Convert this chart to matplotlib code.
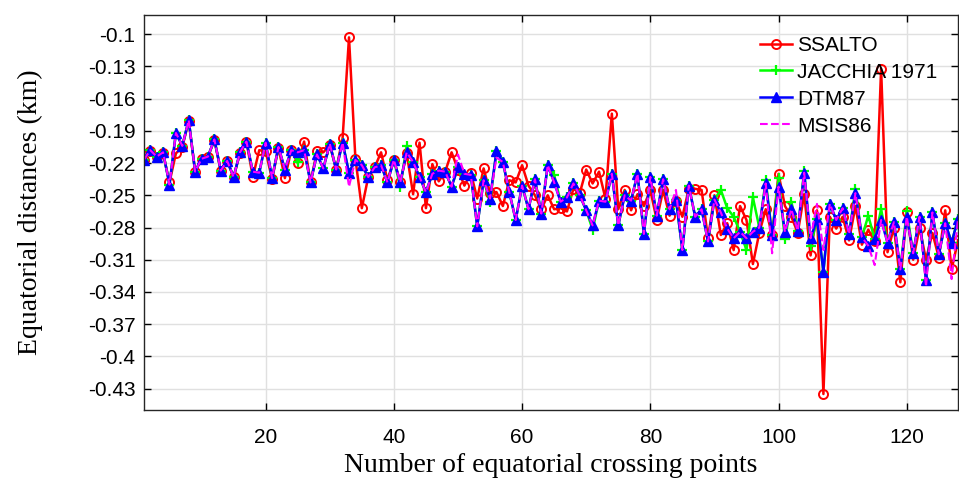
import numpy as np
import matplotlib.pyplot as plt

# equatorial crossing point index
points = np.arange(1, 129)

dtm87 = [
    -0.217, -0.208, -0.214, -0.210, -0.240, -0.192, -0.204, -0.180, -0.228, -0.216,
    -0.214, -0.198, -0.227, -0.218, -0.233, -0.210, -0.200, -0.228, -0.229, -0.201,
    -0.234, -0.205, -0.226, -0.208, -0.210, -0.208, -0.238, -0.212, -0.225, -0.202,
    -0.226, -0.201, -0.229, -0.217, -0.222, -0.233, -0.224, -0.222, -0.238, -0.217,
    -0.238, -0.210, -0.219, -0.233, -0.247, -0.230, -0.227, -0.228, -0.242, -0.224,
    -0.230, -0.231, -0.279, -0.236, -0.253, -0.209, -0.219, -0.247, -0.273, -0.241,
    -0.263, -0.235, -0.267, -0.222, -0.238, -0.256, -0.252, -0.239, -0.250, -0.264,
    -0.278, -0.255, -0.256, -0.230, -0.278, -0.250, -0.255, -0.230, -0.286, -0.233,
    -0.269, -0.235, -0.263, -0.254, -0.301, -0.241, -0.270, -0.263, -0.293, -0.254,
    -0.266, -0.281, -0.290, -0.284, -0.290, -0.284, -0.280, -0.239, -0.287, -0.242,
    -0.284, -0.263, -0.283, -0.229, -0.290, -0.272, -0.321, -0.258, -0.273, -0.262,
    -0.286, -0.248, -0.289, -0.297, -0.291, -0.273, -0.294, -0.275, -0.319, -0.270,
    -0.304, -0.270, -0.329, -0.266, -0.305, -0.276, -0.294, -0.272,
]

ssalto = [
    -0.217, -0.209, -0.214, -0.211, -0.238, -0.211, -0.205, -0.181, -0.228, -0.216,
    -0.214, -0.199, -0.227, -0.218, -0.233, -0.211, -0.200, -0.233, -0.208, -0.209,
    -0.235, -0.206, -0.234, -0.208, -0.220, -0.200, -0.238, -0.209, -0.210, -0.203,
    -0.226, -0.197, -0.103, -0.216, -0.262, -0.233, -0.224, -0.210, -0.236, -0.217,
    -0.238, -0.211, -0.249, -0.201, -0.262, -0.221, -0.237, -0.228, -0.210, -0.226,
    -0.241, -0.229, -0.253, -0.225, -0.248, -0.247, -0.260, -0.236, -0.238, -0.222,
    -0.241, -0.250, -0.263, -0.250, -0.263, -0.262, -0.265, -0.244, -0.248, -0.226,
    -0.239, -0.228, -0.253, -0.174, -0.263, -0.245, -0.264, -0.249, -0.260, -0.245,
    -0.273, -0.245, -0.269, -0.255, -0.270, -0.244, -0.244, -0.245, -0.290, -0.250,
    -0.287, -0.276, -0.301, -0.260, -0.273, -0.314, -0.285, -0.263, -0.287, -0.230,
    -0.260, -0.270, -0.285, -0.249, -0.306, -0.264, -0.435, -0.270, -0.281, -0.270,
    -0.292, -0.260, -0.296, -0.282, -0.293, -0.132, -0.303, -0.280, -0.331, -0.266,
    -0.310, -0.280, -0.310, -0.285, -0.308, -0.264, -0.319, -0.292,
]

jacchia = list(dtm87)
for i, v in {12: -0.198, 25: -0.219, 41: -0.242, 42: -0.204, 55: -0.256, 65: -0.231,
             71: -0.282, 91: -0.245, 92: -0.262, 93: -0.270, 95: -0.301, 96: -0.252,
             98: -0.236, 100: -0.234, 101: -0.291, 102: -0.256, 104: -0.227, 105: -0.297,
             112: -0.244, 114: -0.269, 116: -0.263, 120: -0.265}.items():
    jacchia[i - 1] = v

msis86 = list(dtm87)
for i, v in {33: -0.242, 50: -0.212, 56: -0.215, 84: -0.245, 99: -0.304, 106: -0.258,
             107: -0.301, 115: -0.315, 123: -0.335, 127: -0.328}.items():
    msis86[i - 1] = v

yticks = [-0.43, -0.4, -0.37, -0.34, -0.31, -0.28, -0.25, -0.22, -0.19, -0.16, -0.13, -0.1]
ytick_labels = ["-0.43", "-0.4", "-0.37", "-0.34", "-0.31", "-0.28", "-0.25",
                "-0.22", "-0.19", "-0.16", "-0.13", "-0.1"]

fig = plt.figure(figsize=(9.59, 4.78), dpi=100)
ax = fig.add_axes([0.150, 0.142, 0.849, 0.827])

ax.plot(points, ssalto, color="red", marker="o", mfc="none", ms=6.5, mew=1.4,
        lw=1.8, label="SSALTO")
ax.plot(points, jacchia, color="#00ff00", marker="+", ms=7.5, mew=1.6,
        lw=1.8, label="JACCHIA 1971")
ax.plot(points, dtm87, color="blue", marker="^", mfc="blue", ms=7, mew=1,
        lw=1.8, label="DTM87")
ax.plot(points, msis86, color="magenta", ls="--", lw=1.5, label="MSIS86")

ax.set_xlim(1, 128)
ax.set_ylim(-0.45, -0.082)
ax.set_xticks([20, 40, 60, 80, 100, 120])
ax.set_yticks(yticks)
ax.set_yticklabels(ytick_labels)
ax.grid(True, color="#e0e0e0", lw=1)
ax.set_axisbelow(True)
ax.tick_params(direction="in", top=True, right=True, length=5, width=1,
               labelsize=15)
ax.tick_params(axis="x", pad=13)
ax.tick_params(axis="y", pad=6)
for lab in ax.get_xticklabels() + ax.get_yticklabels():
    lab.set_family("Liberation Sans")
for s in ax.spines.values():
    s.set_linewidth(1)
    s.set_color("#262626")

ax.set_xlabel("Number of equatorial crossing points", family="Liberation Serif",
              fontsize=20, labelpad=4)
ax.set_ylabel("Equatorial distances (km)", family="Liberation Serif",
              fontsize=20, labelpad=32)

leg = ax.legend(loc="upper left", bbox_to_anchor=(0.746, 0.968), borderaxespad=0,
                prop={"family": "Liberation Sans", "size": 15},
                frameon=False, handlelength=1.55, handletextpad=0.25,
                labelspacing=0.38)

fig.savefig("out.png", dpi=100)
